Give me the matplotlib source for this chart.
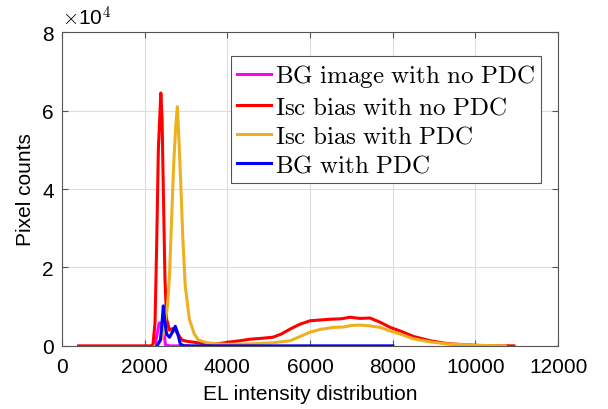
import numpy as np
import matplotlib
matplotlib.use("Agg")
import matplotlib.pyplot as plt
from matplotlib.ticker import FuncFormatter

plt.rcParams['font.family'] = ['Liberation Sans', 'DejaVu Sans']
plt.rcParams['mathtext.fontset'] = 'cm'

# EL intensity (x) and pixel counts (y)
bg_x = [2250, 2300, 2350, 2400, 2450, 2500, 2600, 2800, 3000, 3050]
bg_y = [0, 3000, 5800, 5900, 5500, 300, 0, 0, 0, 0]

isc_x = [400, 2150, 2200, 2250, 2290, 2330, 2390, 2420, 2450, 2490, 2530,
         2600, 2700, 2750, 2800, 2900, 3000, 3200, 3500, 3750, 4000, 4300,
         4550, 4800, 5100, 5300, 5520, 5750, 6000, 6250, 6500, 6750, 6970,
         7200, 7450, 7700, 7940, 8180, 8500, 8910, 9300, 9710, 10120, 10500,
         10930]
isc_y = [0, 0, 300, 6000, 26000, 50000, 64500, 58000, 40000, 17000, 6800,
         4000, 4500, 3800, 3000, 1500, 1200, 900, 500, 500, 900, 1300,
         1700, 1900, 2200, 3000, 4300, 5500, 6400, 6600, 6800, 6900, 7300,
         7000, 7100, 6000, 4700, 3800, 2400, 1300, 600, 300, 100, 50, 0]

pdc_x = [2250, 2350, 2450, 2550, 2600, 2650, 2700, 2750, 2790, 2830, 2870,
         2920, 2980, 3080, 3200, 3300, 3500, 3750, 4000, 4550, 5100, 5520,
         6000, 6250, 6560, 6800, 7000, 7210, 7450, 7700, 7940, 8180, 8500,
         8910, 9300, 9710, 10120, 10500, 10720]
pdc_y = [0, 500, 3000, 10000, 18000, 32000, 46000, 56000, 61000, 52000, 42000,
         28000, 15300, 6800, 3000, 1500, 800, 500, 400, 500, 800, 1300,
         3500, 4200, 4700, 4800, 5200, 5300, 5100, 4700, 3800, 3000, 1800,
         1000, 500, 300, 100, 50, 0]

bgpdc_x = [2290, 2380, 2420, 2450, 2480, 2530, 2600, 2670, 2740, 2790, 2860,
           2950, 3500, 5000, 8000]
bgpdc_y = [0, 1500, 6000, 10200, 7000, 3000, 2200, 3500, 5000, 3500, 500,
           0, 0, 0, 0]

labels = ['BG image with no PDC', 'Isc bias with no PDC',
          'Isc bias with PDC', 'BG with PDC']
colors = ['#FF00FF', '#FF0000', '#EDB120', '#0000FF']

fig = plt.figure(figsize=(6.08, 4.10), dpi=100)
ax = fig.add_axes([0.102, 0.154, 0.816, 0.765])

series = [(bg_x, bg_y), (isc_x, isc_y), (pdc_x, pdc_y), (bgpdc_x, bgpdc_y)]
for (xs, ys), lab, c in zip(series, labels, colors):
    ax.plot(xs, ys, color=c, lw=2.2, label=r'$\mathrm{%s}$' % lab.replace(' ', r'\ '))

ax.set_xlim(0, 12000)
ax.set_ylim(0, 80000)
ax.set_xticks(np.arange(0, 12001, 2000))
ax.set_yticks(np.arange(0, 80001, 20000))
ax.yaxis.set_major_formatter(FuncFormatter(lambda v, p: '%d' % (v / 1e4)))
ax.tick_params(direction='in', top=True, right=True, labelsize=15,
               length=4, color='#555555', width=0.8)
ax.tick_params(axis='x', pad=8)
ax.tick_params(axis='y', pad=6)
ax.grid(True, color='#dddddd', lw=0.8)
for s in ax.spines.values():
    s.set_color('#555555')
    s.set_linewidth(0.8)

ax.set_xlabel('EL intensity distribution', fontsize=15, labelpad=6)
ax.set_ylabel('Pixel counts', fontsize=15, labelpad=5)
ax.text(0, 1.01, r'$\times$10$^4$', transform=ax.transAxes, fontsize=15,
        ha='left', va='bottom')

leg = ax.legend(loc='upper right', bbox_to_anchor=(0.966, 0.924), fontsize=18,
                fancybox=False, framealpha=1, edgecolor='#555555',
                handlelength=1.35, handletextpad=0.15, borderpad=0.25,
                labelspacing=0.2, borderaxespad=0.0)
leg.get_frame().set_linewidth(0.8)

fig.savefig('out.png', dpi=100)
